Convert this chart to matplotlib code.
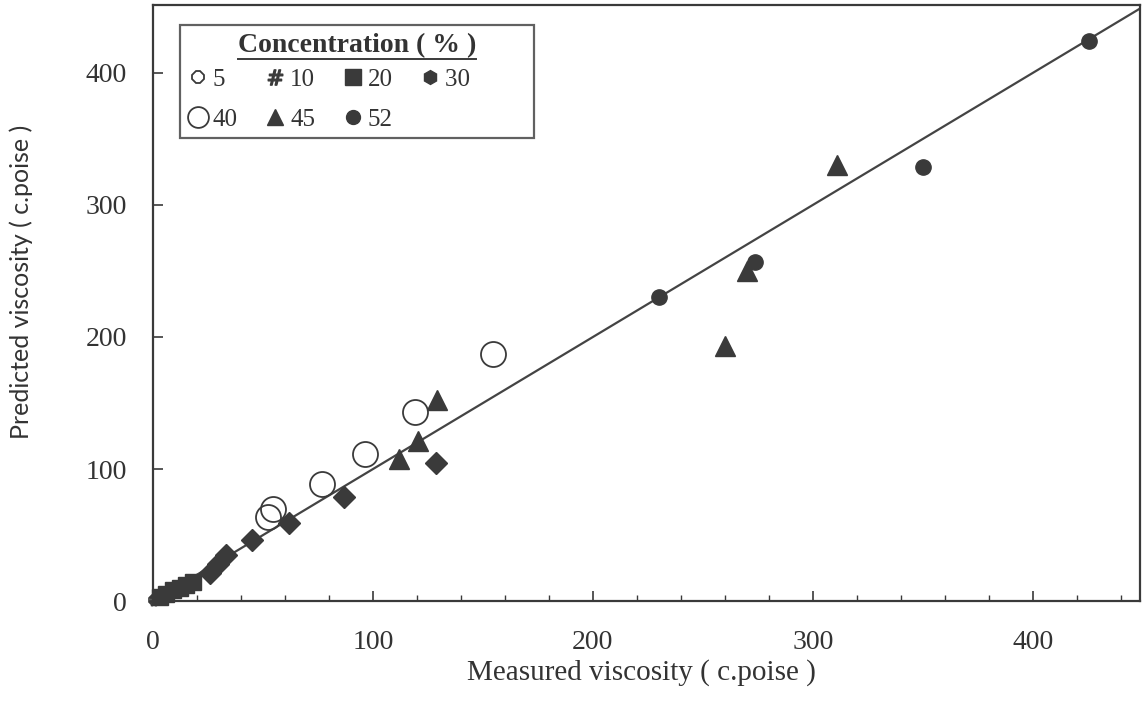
import matplotlib
matplotlib.use("Agg")
import matplotlib.pyplot as plt
from matplotlib.lines import Line2D

# ---------------- data ----------------
c5_x = [0.5, 1.5, 2.5]
c5_y = [0.8, 1.5, 2.2]
c10_x = [1.0, 2.5, 4.0]
c10_y = [1.5, 2.8, 4.0]
c20_x = [3.0, 6.0, 9.0, 12.0, 15.0, 18.0]
c20_y = [3.0, 5.0, 8.0, 10.0, 12.5, 14.5]
c30_x = [26.0, 29.5, 33.0, 45.0, 62.0, 87.0, 128.5]
c30_y = [21.0, 28.0, 35.0, 46.0, 59.0, 79.0, 104.5]
c40_x = [52.3, 54.5, 76.8, 96.4, 119.0, 154.5]
c40_y = [63.6, 69.7, 88.6, 111.4, 143.0, 187.0]
c45_x = [112.0, 120.5, 129.0, 260.0, 270.0, 311.0]
c45_y = [107.6, 121.0, 152.0, 193.0, 250.0, 330.0]
c52_x = [230.0, 273.6, 350.0, 425.5]
c52_y = [230.0, 256.8, 329.0, 424.0]
labels = ["5", "10", "20", "30", "40", "45", "52"]
legend_title = "Concentration ( % )"
x_label = "Measured viscosity ( c.poise )"
y_label = "Predicted viscosity ( c.poise )"
ticks = [0, 100, 200, 300, 400]
ref_line = [0, 450]

ink = "#3a3a3a"
txt = "#333333"
serif = ["Liberation Serif", "DejaVu Serif"]

fig = plt.figure(figsize=(11.43, 7.10), dpi=100)
fig.patch.set_facecolor("white")
ax = fig.add_axes([0.134, 0.1535, 0.863, 0.8395])

ax.plot(ref_line, ref_line, color="#444444", lw=1.6, zorder=2)

common = dict(clip_on=False, zorder=3)
ax.plot(c5_x, c5_y, ls="none", marker="8", ms=8, mfc="white", mec=ink, mew=1.2, **common)
ax.plot(c10_x, c10_y, ls="none", marker=r"$\#$", ms=9, color=ink, **common)
ax.plot(c20_x, c20_y, ls="none", marker="s", ms=12, color=ink, mec=ink, **common)
ax.plot(c30_x, c30_y, ls="none", marker="D", ms=11, color=ink, mec=ink, **common)
ax.plot(c40_x, c40_y, ls="none", marker="o", ms=18, mfc="none", mec=ink, mew=1.3, **common)
ax.plot(c45_x, c45_y, ls="none", marker="^", ms=15, color=ink, mec=ink, **common)
ax.plot(c52_x, c52_y, ls="none", marker="o", ms=11, color=ink, mec=ink, **common)

ax.set_xlim(0, 448.6)
ax.set_ylim(0, 451.5)
ax.set_xticks(ticks)
ax.set_yticks(ticks)
ax.set_xticks(range(0, 441, 20), minor=True)
ax.tick_params(axis="both", which="major", direction="in", length=7, width=1.2,
               colors=ink, labelsize=20)
ax.tick_params(axis="x", which="major", pad=21)
ax.tick_params(axis="y", which="major", pad=19)
ax.tick_params(axis="x", which="minor", direction="in", length=4, width=1.0, colors=ink)
for lab in ax.get_xticklabels() + ax.get_yticklabels():
    lab.set_family(serif)
    lab.set_color(txt)
for s in ax.spines.values():
    s.set_color(ink)
    s.set_linewidth(1.6)

ax.set_xlabel(x_label, family=serif, fontsize=21, color=txt)
ax.xaxis.set_label_coords(0.495, -0.097)
ax.set_ylabel(y_label, family=["Lato", "DejaVu Sans"], fontsize=18, color=txt)
ax.yaxis.set_label_coords(-0.1216, 0.535)

# legend (proxy handles matching the legend glyphs)
hs = [
    Line2D([], [], ls="none", marker="8", ms=9, mfc="white", mec=ink, mew=1.3),
    Line2D([], [], ls="none", marker=r"$\#$", ms=11, color=ink),
    Line2D([], [], ls="none", marker="s", ms=11, color=ink),
    Line2D([], [], ls="none", marker="h", ms=10, color=ink),
    Line2D([], [], ls="none", marker="o", ms=15, mfc="none", mec=ink, mew=1.3),
    Line2D([], [], ls="none", marker="^", ms=12, color=ink),
    Line2D([], [], ls="none", marker="o", ms=10, color=ink),
]
order = [0, 4, 1, 5, 2, 6, 3]
shown = [labels[i] + (" " * 9 if i == 3 else "") for i in order]
leg = ax.legend([hs[i] for i in order], shown, ncol=4,
                loc="upper left", bbox_to_anchor=(0.0274, 0.966), borderaxespad=0,
                title=legend_title, frameon=True, fancybox=False,
                edgecolor=ink, handlelength=0.8, handletextpad=0.2,
                columnspacing=1.1, borderpad=0.3, labelspacing=0.7,
                prop={"family": serif, "size": 18},
                title_fontproperties={"family": serif, "size": 20, "weight": "bold"})
leg._legend_box.sep = 7.5
leg.get_frame().set_linewidth(1.6)
for t in leg.get_texts():
    t.set_color(txt)
leg.get_title().set_color(txt)

fig.canvas.draw()
bb = leg.get_title().get_window_extent().transformed(fig.transFigure.inverted())
fig.add_artist(Line2D([bb.x0, bb.x1], [bb.y0 - 0.002, bb.y0 - 0.002],
                      transform=fig.transFigure, color=ink, lw=1.4))

fig.savefig("out.png", dpi=100, facecolor="white")
